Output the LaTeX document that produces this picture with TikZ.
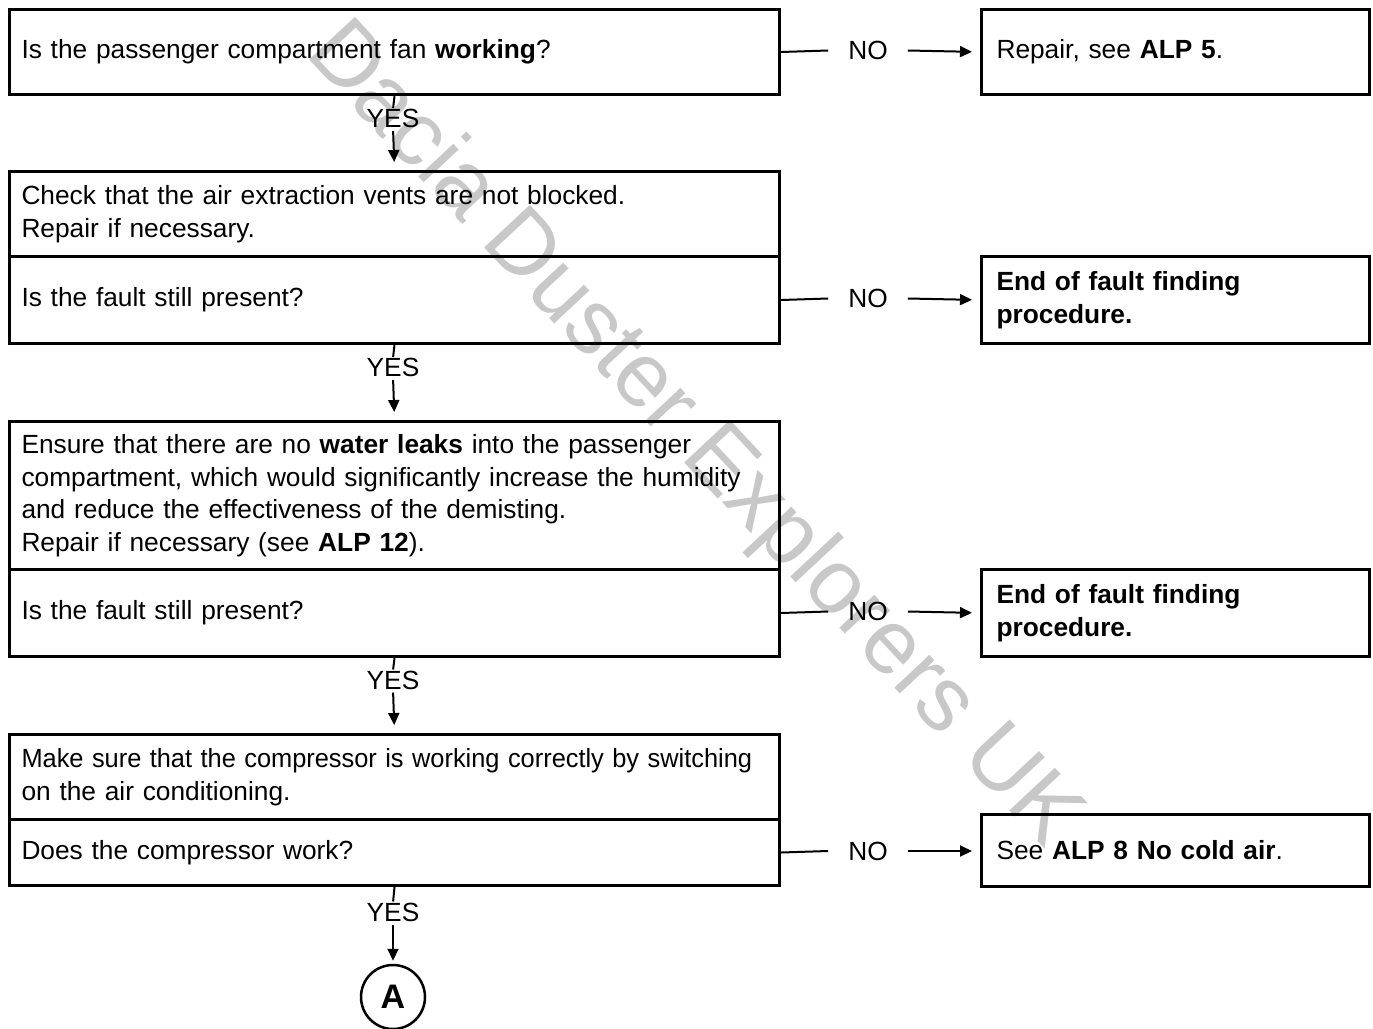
\documentclass[tikz,border=0pt]{standalone}
\usepackage{fontspec}
\usepackage{graphicx}
\setmainfont{Liberation Sans}
\usetikzlibrary{arrows.meta}
\definecolor{wm}{RGB}{200,200,200}
\begin{document}
\begin{tikzpicture}[x=1pt,y=-1pt,
  every node/.style={font=\fontsize{26.3}{32.5}\selectfont},
  lbox/.style={draw,line width=3pt,anchor=north west,minimum width=770pt,text width=746pt,align=left,inner xsep=12pt,inner ysep=0pt},
  rbox/.style={draw,line width=3pt,anchor=north west,minimum width=388pt,text width=358pt,align=left,inner xsep=15pt,inner ysep=0pt},
  lbl/.style={inner sep=0pt},
  nolbl/.style={inner xsep=20pt,inner ysep=0pt},
  conn/.style={line width=2pt},
  arr/.style={line width=2pt,-{Triangle[length=12pt,width=11pt]}}
]
\useasboundingbox (0,0) rectangle (1373,1028);
\node[text=wm,rotate=-47,font=\fontsize{91}{91}\selectfont] (wmk) at (692,436) {Dacia Duster Explorers UK};

% left boxes
\node[lbox,minimum height=85pt] (b1) at (8,8) {Is the passenger compartment fan \textbf{working}?};
\node[lbox,minimum height=85pt] (b2a) at (8,170) {Check that the air extraction vents are not blocked.\\Repair if necessary.};
\node[lbox,minimum height=87pt] (b2b) at (8,255) {Is the fault still present?};
\node[lbox,minimum height=148pt] (b3a) at (8,420) {Ensure that there are no \textbf{water leaks} into the passenger\\\mbox{compartment, which would significantly increase the humidity}\\and reduce the effectiveness of the demisting.\\Repair if necessary (see \textbf{ALP 12}).};
\node[lbox,minimum height=87pt] (b3b) at (8,568) {Is the fault still present?};
\node[lbox,minimum height=85pt] (b4a) at (8,733) {\scalebox{0.965}[1]{Make sure that the compressor is working correctly by switching}\\on the air conditioning.};
\node[lbox,minimum height=66pt] (b4b) at (8,818) {Does the compressor work?};

% right boxes
\node[rbox,minimum height=85pt] (r1) at (980,8) {Repair, see \textbf{ALP 5}.};
\node[rbox,minimum height=87pt] (r2) at (980,255) {\textbf{End of fault finding}\\\textbf{procedure.}};
\node[rbox,minimum height=87pt] (r3) at (980,568) {\textbf{End of fault finding}\\\textbf{procedure.}};
\node[rbox,minimum height=72pt] (r4) at (980,813) {See \textbf{ALP 8 No cold air}.};

% NO labels
\node[nolbl] (n1) at (868,50.5) {NO};
\node[nolbl] (n2) at (868,298.5) {NO};
\node[nolbl] (n3) at (868,611.5) {NO};
\node[nolbl] (n4) at (868,851) {NO};

\draw[conn] (b1.east) -- (n1.west);
\draw[arr,shorten >=8pt] (n1.east) -- (r1.west);
\draw[conn] (b2b.east) -- (n2.west);
\draw[arr,shorten >=8pt] (n2.east) -- (r2.west);
\draw[conn] (b3b.east) -- (n3.west);
\draw[arr,shorten >=8pt] (n3.east) -- (r3.west);
\draw[conn] (b4b.east) -- (n4.west);
\draw[arr,shorten >=8pt] (n4.east) -- (r4.west |- n4.east);

% YES labels
\node[lbl] (y1) at (393,118.5) {YES};
\node[lbl] (y2) at (393,367.5) {YES};
\node[lbl] (y3) at (393,680) {YES};
\node[lbl] (y4) at (393,912) {YES};

\node[draw,circle,line width=2.5pt,minimum size=64pt,inner sep=0pt,font=\bfseries\fontsize{34}{34}\selectfont] (A) at (393,997) {A};

\draw[conn,shorten >=1pt] (b1.south) -- (y1.north);
\draw[arr,shorten <=3pt,shorten >=8pt] (y1.south) -- (b2a.north);
\draw[conn,shorten >=1pt] (b2b.south) -- (y2.north);
\draw[arr,shorten <=3pt,shorten >=8pt] (y2.south) -- (b3a.north);
\draw[conn,shorten >=1pt] (b3b.south) -- (y3.north);
\draw[arr,shorten <=3pt,shorten >=8pt] (y3.south) -- (b4a.north);
\draw[conn,shorten >=1pt] (b4b.south) -- (y4.north);
\draw[arr,shorten <=3pt,shorten >=3pt] (y4.south) -- (A.north);
\end{tikzpicture}
\end{document}
